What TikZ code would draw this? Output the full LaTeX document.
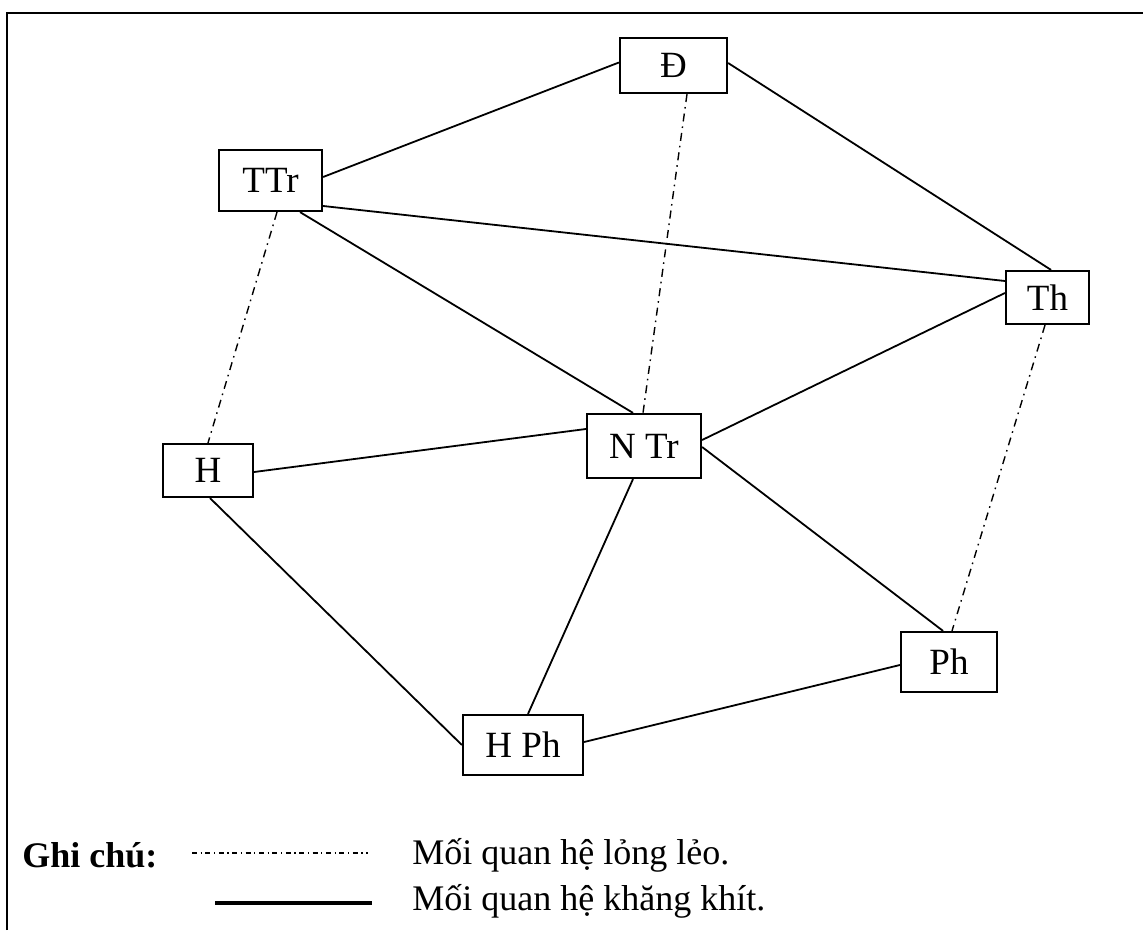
\documentclass[tikz,border=0pt]{standalone}
\usepackage{fontspec}
\setmainfont{Liberation Serif}
\usetikzlibrary{calc}
\begin{document}
\begin{tikzpicture}[x=0.5pt,y=-0.5pt,
  box/.style={draw,line width=1.1pt,inner sep=0pt,font=\fontsize{18.5}{22}\selectfont},
  tight/.style={line width=0.9pt},
  loose/.style={line width=0.7pt,dash pattern=on 4pt off 2.5pt on 0.8pt off 2.5pt},
  lbl/.style={anchor=west,inner sep=0pt,font=\fontsize{18}{22}\selectfont}]
\useasboundingbox (0,0) rectangle (1143,930);
\draw[line width=1.2pt] (7,930) -- (7,13) -- (1143,13);
% nodes
\node[box,minimum width=53.5pt,minimum height=27.5pt] (D) at (673.5,65.5) {Đ};
\node[box,minimum width=51.5pt,minimum height=30.5pt] (TTr) at (270.5,180.5) {TTr};
\node[box,minimum width=57pt,minimum height=32pt] (NTr) at (644,446) {N Tr};
\node[box,minimum width=41.5pt,minimum height=26.5pt] (Th) at (1047.5,297.5) {Th};
\node[box,minimum width=45pt,minimum height=26.5pt] (H) at (208,470.5) {H};
\node[box,minimum width=48pt,minimum height=30pt] (Ph) at (949,662) {Ph};
\node[box,minimum width=60pt,minimum height=30pt] (HPh) at (523,745) {H Ph};
% tight relations
\draw[tight] ($(TTr.east)+(0,-3.5)$) -- ($(D.west)+(0,-3)$);
\draw[tight] ($(D.east)+(0,-2.5)$) -- ($(Th.north)+(3.5,0)$);
\draw[tight] ($(TTr.east)+(0,25.5)$) -- ($(Th.west)+(0,-16.5)$);
\draw[tight] ($(TTr.south)+(29.5,0)$) -- ($(NTr.north)+(-11,0)$);
\draw[tight] ($(H.east)+(0,1.5)$) -- ($(NTr.west)+(0,-17)$);
\draw[tight] ($(NTr.east)+(0,-6)$) -- ($(Th.west)+(0,-4.5)$);
\draw[tight] ($(NTr.east)+(0,1)$) -- ($(Ph.north)+(-6,0)$);
\draw[tight] ($(NTr.south)+(-11,0)$) -- ($(HPh.north)+(5,0)$);
\draw[tight] ($(H.south)+(2,0)$) -- (HPh.west);
\draw[tight] ($(HPh.east)+(0,-3)$) -- ($(Ph.west)+(0,3)$);
% loose relations
\draw[loose] ($(D.south)+(13.5,0)$) -- ($(NTr.north)+(-1,0)$);
\draw[loose] ($(TTr.south)+(6.5,0)$) -- (H.north);
\draw[loose] ($(Th.south)+(-2.5,0)$) -- ($(Ph.north)+(3,0)$);
% legend
\node[lbl,font=\fontsize{18}{22}\selectfont\bfseries] (gc) at (22,855) {Ghi chú:};
\coordinate (l1a) at (192,853);
\coordinate (l1b) at (368,853);
\coordinate (l2a) at (215,903);
\coordinate (l2b) at (372,903);
\draw[line width=0.6pt,dash pattern=on 2.5pt off 1.8pt on 0.6pt off 1.8pt] (l1a) -- (l1b);
\draw[line width=1.6pt] (l2a) -- (l2b);
\node[lbl] (t1) at (412,855) {Mối quan hệ lỏng lẻo.};
\node[lbl] (t2) at (412,901) {Mối quan hệ khăng khít.};
\end{tikzpicture}
\end{document}
